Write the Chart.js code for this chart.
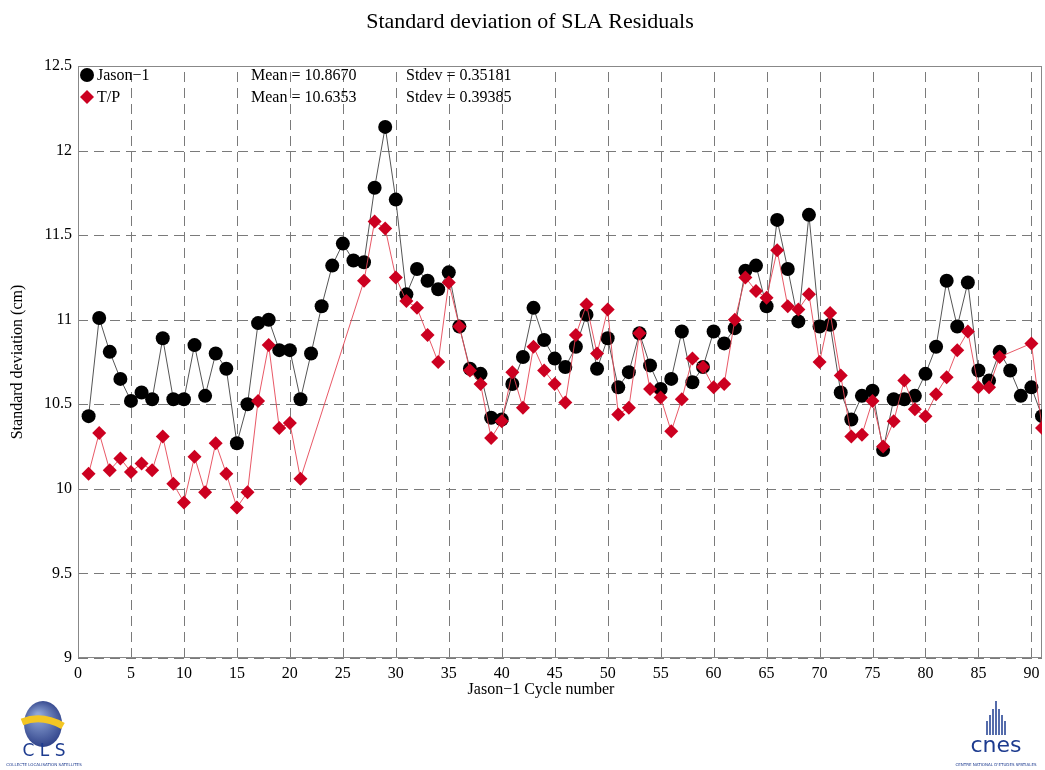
<!DOCTYPE html>
<html>
<head>
<meta charset="utf-8">
<script src="https://cdn.jsdelivr.net/npm/chart.js@4/dist/chart.umd.min.js"></script>
<style>
  body { margin: 0; background: #fff; }
</style>
</head>
<body>
<canvas id="sdCanvas" width="1045" height="770"></canvas>
<script>
// cycles 1..91
const jasonCycles = Array.from({ length: 91 }, (_, i) => i + 1);
const jasonValues = [
  10.43, 11.01, 10.81, 10.65, 10.52, 10.57, 10.53, 10.89, 10.53, 10.53,
  10.85, 10.55, 10.80, 10.71, 10.27, 10.50, 10.98, 11.00, 10.82, 10.82,
  10.53, 10.80, 11.08, 11.32, 11.45, 11.35, 11.34, 11.78, 12.14, 11.71,
  11.15, 11.30, 11.23, 11.18, 11.28, 10.96, 10.71, 10.68, 10.42, 10.41,
  10.62, 10.78, 11.07, 10.88, 10.77, 10.72, 10.84, 11.03, 10.71, 10.89,
  10.60, 10.69, 10.92, 10.73, 10.59, 10.65, 10.93, 10.63, 10.72, 10.93,
  10.86, 10.95, 11.29, 11.32, 11.08, 11.59, 11.30, 10.99, 11.62, 10.96,
  10.97, 10.57, 10.41, 10.55, 10.58, 10.23, 10.53, 10.53, 10.55, 10.68,
  10.84, 11.23, 10.96, 11.22, 10.70, 10.64, 10.81, 10.70, 10.55, 10.60,
  10.43
];

// T/P has no data for cycles 22-26 and 88-89
const tpCycles = [
  1, 2, 3, 4, 5, 6, 7, 8, 9, 10, 11, 12, 13, 14, 15, 16, 17, 18, 19, 20, 21,
  27, 28, 29, 30, 31, 32, 33, 34, 35, 36, 37, 38, 39, 40, 41, 42, 43, 44, 45,
  46, 47, 48, 49, 50, 51, 52, 53, 54, 55, 56, 57, 58, 59, 60, 61, 62, 63, 64,
  65, 66, 67, 68, 69, 70, 71, 72, 73, 74, 75, 76, 77, 78, 79, 80, 81, 82, 83,
  84, 85, 86, 87, 90, 91
];
const tpValues = [
  10.09, 10.33, 10.11, 10.18, 10.10, 10.15, 10.11, 10.31, 10.03, 9.92,
  10.19, 9.98, 10.27, 10.09, 9.89, 9.98, 10.52, 10.85, 10.36, 10.39, 10.06,
  11.23, 11.58, 11.54, 11.25, 11.11, 11.07, 10.91, 10.75, 11.22, 10.96,
  10.70, 10.62, 10.30, 10.40, 10.69, 10.48, 10.84, 10.70, 10.62, 10.51,
  10.91, 11.09, 10.80, 11.06, 10.44, 10.48, 10.92, 10.59, 10.54, 10.34,
  10.53, 10.77, 10.72, 10.60, 10.62, 11.00, 11.25, 11.17, 11.13, 11.41,
  11.08, 11.06, 11.15, 10.75, 11.04, 10.67, 10.31, 10.32, 10.52, 10.25,
  10.40, 10.64, 10.47, 10.43, 10.56, 10.66, 10.82, 10.93, 10.60, 10.60,
  10.78, 10.86, 10.36
];

const xTicks = [0, 5, 10, 15, 20, 25, 30, 35, 40, 45, 50, 55, 60, 65, 70, 75, 80, 85, 90];
const yTicks = [9, 9.5, 10, 10.5, 11, 11.5, 12, 12.5];

const statLines = [
  ["Mean = 10.8670", "Stdev = 0.35181"],
  ["Mean = 10.6353", "Stdev = 0.39385"]
];

const serif = "'Liberation Serif', 'DejaVu Serif', serif";
const red = "#cc0020";

const toXY = (xs, ys) => xs.map((x, i) => ({ x: x, y: ys[i] }));

const decorPlugin = {
  id: "decor",
  beforeDatasetsDraw: (chart) => {
    const { ctx, chartArea: { left, top, right, bottom } } = chart;
    const xs = chart.scales.x, ys = chart.scales.y;
    ctx.save();
    // dashed grid
    ctx.strokeStyle = "#7a7a7a";
    ctx.lineWidth = 1;
    ctx.setLineDash([10, 6]);
    xTicks.forEach((v) => {
      const px = Math.round(xs.getPixelForValue(v)) + 0.5;
      ctx.beginPath();
      ctx.moveTo(px, bottom);
      ctx.lineTo(px, top);
      ctx.stroke();
    });
    yTicks.forEach((v) => {
      const py = Math.round(ys.getPixelForValue(v)) + 0.5;
      ctx.beginPath();
      ctx.moveTo(left, py);
      ctx.lineTo(right, py);
      ctx.stroke();
    });
    ctx.setLineDash([]);
    ctx.strokeStyle = "#888";
    ctx.strokeRect(left + 0.5, top + 0.5, right - left - 1, bottom - top - 1);
    ctx.restore();
  },
  afterDraw: (chart) => {
    const { ctx } = chart;
    ctx.save();
    ctx.fillStyle = "#000";
    ctx.textBaseline = "middle";

    ctx.font = "22px " + serif;
    ctx.textAlign = "center";
    ctx.fillText("Standard deviation of SLA Residuals", 530, 22);

    ctx.font = "16px " + serif;
    ctx.fillText("Jason\u22121 Cycle number", 541, 690);

    ctx.save();
    ctx.translate(18, 362);
    ctx.rotate(-Math.PI / 2);
    ctx.fillText("Standard deviation (cm)", 0, 0);
    ctx.restore();

    // legend
    ctx.textAlign = "left";
    ctx.beginPath();
    ctx.arc(87, 75, 7, 0, Math.PI * 2);
    ctx.fill();
    ctx.fillText("Jason\u22121", 97, 76);
    ctx.fillStyle = red;
    ctx.beginPath();
    ctx.moveTo(87, 90); ctx.lineTo(94, 97); ctx.lineTo(87, 104); ctx.lineTo(80, 97);
    ctx.closePath();
    ctx.fill();
    ctx.fillStyle = "#000";
    ctx.fillText("T/P", 97, 98);
    statLines.forEach((row, i) => {
      ctx.fillText(row[0], 251, 76 + i * 22);
      ctx.fillText(row[1], 406, 76 + i * 22);
    });

    // CLS logo (rough)
    const g = ctx.createRadialGradient(38, 715, 2, 42, 725, 28);
    g.addColorStop(0, "#8fa6d8");
    g.addColorStop(1, "#1d2f7a");
    ctx.fillStyle = g;
    ctx.beginPath();
    ctx.ellipse(43, 724, 19, 23, 0, 0, Math.PI * 2);
    ctx.fill();
    ctx.strokeStyle = "#f3c623";
    ctx.lineWidth = 7;
    ctx.beginPath();
    ctx.moveTo(22, 722);
    ctx.quadraticCurveTo(42, 714, 63, 726);
    ctx.stroke();
    ctx.fillStyle = "#1d3b8f";
    ctx.font = "17px 'DejaVu Sans', sans-serif";
    ctx.textAlign = "center";
    ctx.fillText("C L S", 44, 752);
    ctx.font = "4px 'DejaVu Sans', sans-serif";
    ctx.fillText("COLLECTE LOCALISATION SATELLITES", 44, 765);

    // cnes logo (rough)
    ctx.strokeStyle = "#1d3b8f";
    ctx.lineWidth = 1.5;
    const bars = [[-9, 14], [-6, 20], [-3, 26], [0, 34], [3, 26], [6, 20], [9, 14]];
    bars.forEach(([dx, h]) => {
      ctx.beginPath();
      ctx.moveTo(996 + dx, 735);
      ctx.lineTo(996 + dx, 735 - h);
      ctx.stroke();
    });
    ctx.font = "22px 'DejaVu Sans', sans-serif";
    ctx.fillText("cnes", 996, 746);
    ctx.font = "4px 'DejaVu Sans', sans-serif";
    ctx.fillText("CENTRE NATIONAL D'ETUDES SPATIALES", 996, 765);
    ctx.restore();
  }
};

const data = {
  datasets: [
    {
      label: "T/P",
      data: toXY(tpCycles, tpValues),
      borderColor: "rgba(230, 70, 85, 0.9)",
      borderWidth: 1,
      backgroundColor: red,
      pointBackgroundColor: red,
      pointBorderColor: red,
      pointStyle: "rectRot",
      pointRadius: 7,
      pointBorderWidth: 0,
      tension: 0,
      order: 0
    },
    {
      label: "Jason-1",
      data: toXY(jasonCycles, jasonValues),
      borderColor: "#555",
      borderWidth: 1,
      backgroundColor: "#000",
      pointBackgroundColor: "#000",
      pointBorderColor: "#000",
      pointStyle: "circle",
      pointRadius: 7,
      pointBorderWidth: 0,
      tension: 0,
      order: 1
    }
  ]
};

const config = {
  type: "line",
  data: data,
  options: {
    responsive: false,
    animation: false,
    layout: {
      autoPadding: false,
      padding: { top: 66, right: 3, left: 0, bottom: 0 }
    },
    plugins: {
      legend: { display: false },
      title: { display: false },
      tooltip: { enabled: false }
    },
    scales: {
      x: {
        type: "linear",
        min: 0,
        max: 91,
        afterBuildTicks: (scale) => {
          scale.ticks = xTicks.map((v) => ({ value: v }));
        },
        afterFit: (scale) => {
          scale.height = 112;
          scale.paddingLeft = 0;
          scale.paddingRight = 0;
        },
        grid: { display: false, drawTicks: false },
        border: { display: false },
        ticks: {
          padding: 6,
          maxRotation: 0,
          autoSkip: false,
          color: "#000",
          font: { family: serif, size: 16 }
        }
      },
      y: {
        min: 9,
        max: 12.5,
        afterBuildTicks: (scale) => {
          scale.ticks = yTicks.map((v) => ({ value: v }));
        },
        afterFit: (scale) => { scale.width = 78; },
        grid: { display: false, drawTicks: false },
        border: { display: false },
        ticks: {
          padding: 6,
          color: "#000",
          font: { family: serif, size: 16 },
          callback: (v) => String(v)
        }
      }
    }
  },
  plugins: [decorPlugin]
};

const canvas = document.getElementById("sdCanvas");
if (canvas) {
  new Chart(canvas.getContext("2d"), config);
} else {
  console.error("canvas not found");
}
</script>
</body>
</html>
